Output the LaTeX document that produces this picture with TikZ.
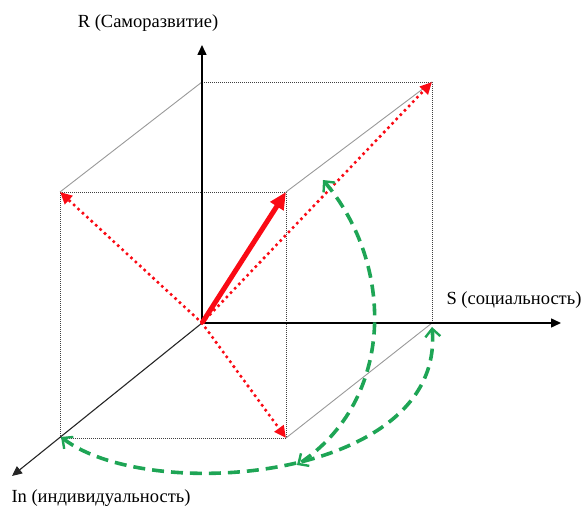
\documentclass[tikz,border=0pt]{standalone}
\usepackage{fontspec}
\setmainfont{Liberation Serif}
\usetikzlibrary{arrows.meta}
\definecolor{grn}{RGB}{30,165,85}
\definecolor{redA}{RGB}{250,10,20}
\tikzset{
  axis/.style={line width=1.5pt, black, -{Triangle[length=10pt,width=9pt]}},
  axisin/.style={line width=1.1pt, black!85, -{Triangle[length=10pt,width=9pt]}},
  cube/.style={line width=0.8pt, black!75, dash pattern=on 1pt off 1pt},
  edge/.style={line width=0.9pt, black!40},
  reddot/.style={line width=3.6pt, redA, dash pattern=on 0pt off 6pt, line cap=round, -{Triangle[length=12pt,width=11pt]}},
  redthick/.style={line width=5pt, redA, -{Triangle[length=17pt,width=15pt]}},
  grnarr/.style={line width=3.6pt, grn, dash pattern=on 12pt off 7pt,
     {Straight Barb[length=8pt,width=15pt,line width=2.4pt]}-{Straight Barb[length=8pt,width=15pt,line width=2.4pt]}},
  lab/.style={font=\fontsize{18.5}{22}\selectfont, inner sep=0pt}
}
\begin{document}
\begin{tikzpicture}[x=1pt,y=-1pt]
\useasboundingbox (0,0) rectangle (584,510);
% points
\coordinate (O) at (202,323);
\coordinate (Rt) at (202,45);
\coordinate (St) at (561,323);
\coordinate (It) at (12,476);
\coordinate (A) at (60,192);
\coordinate (B) at (286,192);
\coordinate (C) at (286,438);
\coordinate (D) at (60,438);
\coordinate (E) at (202,82);
\coordinate (F) at (432,82);
\coordinate (G) at (432,323);
% cube dotted lines
\draw[cube] (A) -- (B) -- (C) -- (D) -- cycle;
\draw[cube] (E) -- (F) -- (G);
% gray edges
\draw[edge] (A) -- (E);
\draw[edge] (B) -- (F);
\draw[edge] (C) -- (G);
% axes
\draw[axis] (O) -- (Rt);
\draw[axis] (O) -- (St);
\draw[axisin] (O) -- (It);
% red arrows
\draw[reddot] (O) -- (A);
\draw[reddot] (O) -- (C);
\draw[reddot] (O) -- (F);
\draw[redthick] (O) -- (B);
% green arrows
\coordinate (Ga) at (323,180);
\coordinate (Gb) at (297,465);
\coordinate (Gc) at (432,327);
\coordinate (Gd) at (61,437);
\draw[grnarr] (Ga) .. controls (395,265) and (395,400) .. (Gb);
\draw[grnarr] (Gd) .. controls (150,505) and (445,480) .. (Gc);
% labels
\node[lab] (Rl) at (148,23) {R (Саморазвитие)};
\node[lab] (Sl) at (514,300) {S (социальность)};
\node[lab] (Il) at (101,498) {In (индивидуальность)};
\end{tikzpicture}
\end{document}
